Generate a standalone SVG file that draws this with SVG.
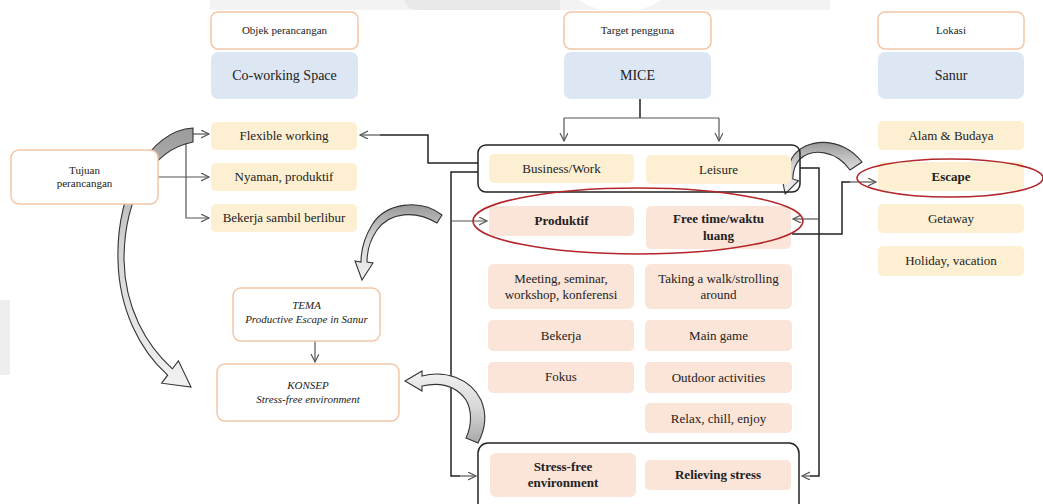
<svg xmlns="http://www.w3.org/2000/svg" width="1043" height="504" viewBox="0 0 1043 504">
<defs>
<style>
text{font-family:"Liberation Serif","Times New Roman",serif;fill:#222;text-anchor:middle}
.hdr{fill:#fff;stroke:#f3c6a6;stroke-width:1.5}
.blue{fill:#dce7f3}
.yel{fill:#fdf0d2}
.pch{fill:#fbe4d8}
.cont{fill:none;stroke:#222;stroke-width:1.5}
.ln{fill:none;stroke:#222;stroke-width:1.5}
.thin{fill:none;stroke:#555;stroke-width:1.2}
.red{fill:none;stroke:#b3262a;stroke-width:1.6}
.blk{stroke:#333;stroke-width:1.1;fill:url(#g)}
.s11{font-size:11px}.s13{font-size:13px}.s14{font-size:14px}
.b{font-weight:bold}.i{font-style:italic}
</style>
<linearGradient id="g" x1="0" y1="0" x2="0" y2="1">
<stop offset="0" stop-color="#9a9a9a"/><stop offset="0.45" stop-color="#d4d4d4"/><stop offset="1" stop-color="#f2f2f2"/>
</linearGradient>
<linearGradient id="g2" x1="0" y1="1" x2="0" y2="0">
<stop offset="0" stop-color="#a8a8a8"/><stop offset="0.5" stop-color="#d8d8d8"/><stop offset="1" stop-color="#f2f2f2"/>
</linearGradient>
<marker id="a" markerWidth="10" markerHeight="10" refX="8" refY="4" orient="auto" markerUnits="userSpaceOnUse">
<path d="M0,0 L8,4 L0,8" fill="none" stroke="#555" stroke-width="1.2"/>
</marker>
</defs>
<rect width="1043" height="504" fill="#fff"/>
<g id="watermark">
<rect x="210" y="0" width="620" height="10" fill="#f3f3f3"/>
<path d="M405,0 H560 V10 H420 Q405,10 405,0Z" fill="#e9e9e9"/>
<ellipse cx="620" cy="-35" rx="62" ry="47" fill="#fff"/>
<rect x="0" y="300" width="10" height="75" fill="#eeeeee"/>
</g>

<g id="connectors">
<path class="ln" d="M640,99 V118"/>
<path class="thin" d="M564,118 H719"/>
<path class="thin" d="M564,118 V141" marker-end="url(#a)"/>
<path class="thin" d="M719,118 V141" marker-end="url(#a)"/>
<path class="thin" d="M158,177 H209" marker-end="url(#a)"/>
<path class="thin" d="M186,134 V218 H209" marker-end="url(#a)"/>
<path class="thin" d="M186,134 H209" marker-end="url(#a)"/>
<path class="ln" d="M478,163 H428 V135 H380"/>
<path class="thin" d="M380,135 H360" marker-end="url(#a)"/>
<path class="ln" d="M478,172 H451 V476 H460"/>
<path class="thin" d="M460,476 H476" marker-end="url(#a)"/>
<path class="thin" d="M451,221 H487" marker-end="url(#a)"/>
<path class="ln" d="M800,168 H819 V476 H810"/>
<path class="thin" d="M810,476 H802" marker-end="url(#a)"/>
<path class="thin" d="M819,219 H793" marker-end="url(#a)"/>
<path class="ln" d="M792,234 H842 V182 H850"/>
<path class="thin" d="M850,182 H876" marker-end="url(#a)"/>
<path class="thin" d="M315,341 V362" marker-end="url(#a)"/>
<path class="blk" d="M193,128 C150,130 116,190 118,260 C119,310 140,350 167.6,375.2 L161.6,383.2 L191,387 L178.4,360.8 L172.4,368.8 C146,345 125,308 124,260 C124,200 150,150 193,142 Z"/>
<path class="blk" d="M442,215 C420,198 385,203 372,225 C364,238 361,250 361,262 L355,261 L362,280 L373,263 L367,262 C367,250 370,240 377,230 C390,212 415,210 437,223 Z"/>
<path class="blk" style="fill:url(#g2)" d="M478,443 C486,428 487,414 481,400 C470,378 445,370 422,376 L422,371 L405,381 L422,391 L422,386 C440,382 456,386 466,400 C472,410 472,425 466,438 Z"/>
<path class="blk" d="M862,162 C842,136 805,137 792,158 C789,164 787,170 787.2,177.1 L781.5,175.3 L785.2,194 L798.5,180.7 L792.8,178.9 C793,170 796,163 800,159 C812,148 836,150 850,170 Z"/>
</g>

<g id="objek"><rect class="hdr" x="211" y="12" width="147" height="37" rx="7"/><text class="s11" x="284.5" y="34">Objek perancangan</text></g>
<g id="coworking"><rect class="blue" x="211" y="52" width="147" height="47" rx="7"/><text class="s14" x="284.5" y="80">Co-working Space</text></g>
<g id="target"><rect class="hdr" x="564" y="12" width="147" height="37" rx="7"/><text class="s11" x="637.5" y="34">Target pengguna</text></g>
<g id="mice"><rect class="blue" x="564" y="52" width="147" height="47" rx="7"/><text class="s14" x="637.5" y="80">MICE</text></g>
<g id="lokasi"><rect class="hdr" x="878" y="12" width="146" height="37" rx="7"/><text class="s11" x="951" y="34">Lokasi</text></g>
<g id="sanur"><rect class="blue" x="878" y="52" width="146" height="47" rx="7"/><text class="s14" x="951" y="80">Sanur</text></g>

<g id="tujuan"><rect class="hdr" x="11" y="150" width="147" height="54" rx="8"/><text class="s11" x="84.5" y="174">Tujuan</text><text class="s11" x="84.5" y="187">perancangan</text></g>
<g id="flexible"><rect class="yel" x="211" y="122" width="146" height="28" rx="5"/><text class="s13" x="284" y="140">Flexible working</text></g>
<g id="nyaman"><rect class="yel" x="211" y="163" width="146" height="28" rx="5"/><text class="s13" x="284" y="181">Nyaman, produktif</text></g>
<g id="bekerjasambil"><rect class="yel" x="211" y="204" width="146" height="28" rx="5"/><text class="s13" x="284" y="222">Bekerja sambil berlibur</text></g>

<g id="usage"><rect class="cont" x="478" y="145" width="322" height="47" rx="8"/>
<rect class="yel" x="489" y="154" width="145" height="29" rx="5"/><text class="s13" x="561.5" y="173">Business/Work</text>
<rect class="yel" x="646" y="155" width="145" height="29" rx="5"/><text class="s13" x="718.5" y="174">Leisure</text></g>

<g id="alam"><rect class="yel" x="878" y="121" width="146" height="29" rx="5"/><text class="s13" x="951" y="140">Alam &amp; Budaya</text></g>
<g id="escape"><rect class="yel" x="878" y="162" width="146" height="29" rx="5"/><text class="s13 b" x="951" y="181">Escape</text></g>
<g id="getaway"><rect class="yel" x="878" y="204" width="146" height="29" rx="5"/><text class="s13" x="951" y="223">Getaway</text></g>
<g id="holiday"><rect class="yel" x="878" y="246" width="146" height="30" rx="5"/><text class="s13" x="951" y="265">Holiday, vacation</text></g>

<g id="produktif"><rect class="pch" x="489" y="206" width="145" height="30" rx="5"/><text class="s13 b" x="561.5" y="225">Produktif</text></g>
<g id="freetime"><rect class="pch" x="646" y="206" width="145" height="43" rx="5"/><text class="s13 b" x="718.5" y="223">Free time/waktu</text><text class="s13 b" x="718.5" y="240">luang</text></g>
<g id="meeting"><rect class="pch" x="488" y="264" width="146" height="45" rx="6"/><text class="s13" x="561" y="283">Meeting, seminar,</text><text class="s13" x="561" y="299">workshop, konferensi</text></g>
<g id="walk"><rect class="pch" x="645" y="264" width="147" height="45" rx="6"/><text class="s13" x="718.5" y="283">Taking a walk/strolling</text><text class="s13" x="718.5" y="299">around</text></g>
<g id="bekerja"><rect class="pch" x="488" y="320" width="146" height="31" rx="5"/><text class="s13" x="561" y="340">Bekerja</text></g>
<g id="maingame"><rect class="pch" x="645" y="320" width="147" height="31" rx="5"/><text class="s13" x="718.5" y="340">Main game</text></g>
<g id="fokus"><rect class="pch" x="488" y="362" width="146" height="31" rx="5"/><text class="s13" x="561" y="381">Fokus</text></g>
<g id="outdoor"><rect class="pch" x="645" y="362" width="147" height="31" rx="5"/><text class="s13" x="718.5" y="382">Outdoor activities</text></g>
<g id="relax"><rect class="pch" x="645" y="403" width="147" height="30" rx="5"/><text class="s13" x="718.5" y="423">Relax, chill, enjoy</text></g>

<g id="stress"><rect class="cont" x="478" y="443" width="321" height="75" rx="10"/>
<rect class="pch" x="490" y="453" width="146" height="44" rx="6"/><text class="s13 b" x="563" y="471">Stress-free</text><text class="s13 b" x="563" y="487">environment</text>
<rect class="pch" x="645" y="460" width="146" height="30" rx="5"/><text class="s13 b" x="718" y="479">Relieving stress</text></g>

<g id="tema"><rect class="hdr" x="233" y="288" width="147" height="53" rx="8"/><text class="s11 i" x="306.5" y="309">TEMA</text><text class="s11 i" x="306.5" y="323">Productive Escape in Sanur</text></g>
<g id="konsep"><rect class="hdr" x="217" y="364" width="182" height="57" rx="8"/><text class="s11 i" x="308" y="389">KONSEP</text><text class="s11 i" x="308" y="403">Stress-free environment</text></g>

<g id="highlights">
<ellipse class="red" cx="638" cy="221" rx="165" ry="33"/>
<ellipse class="red" cx="950" cy="178" rx="93" ry="19"/>
</g>
</svg>
